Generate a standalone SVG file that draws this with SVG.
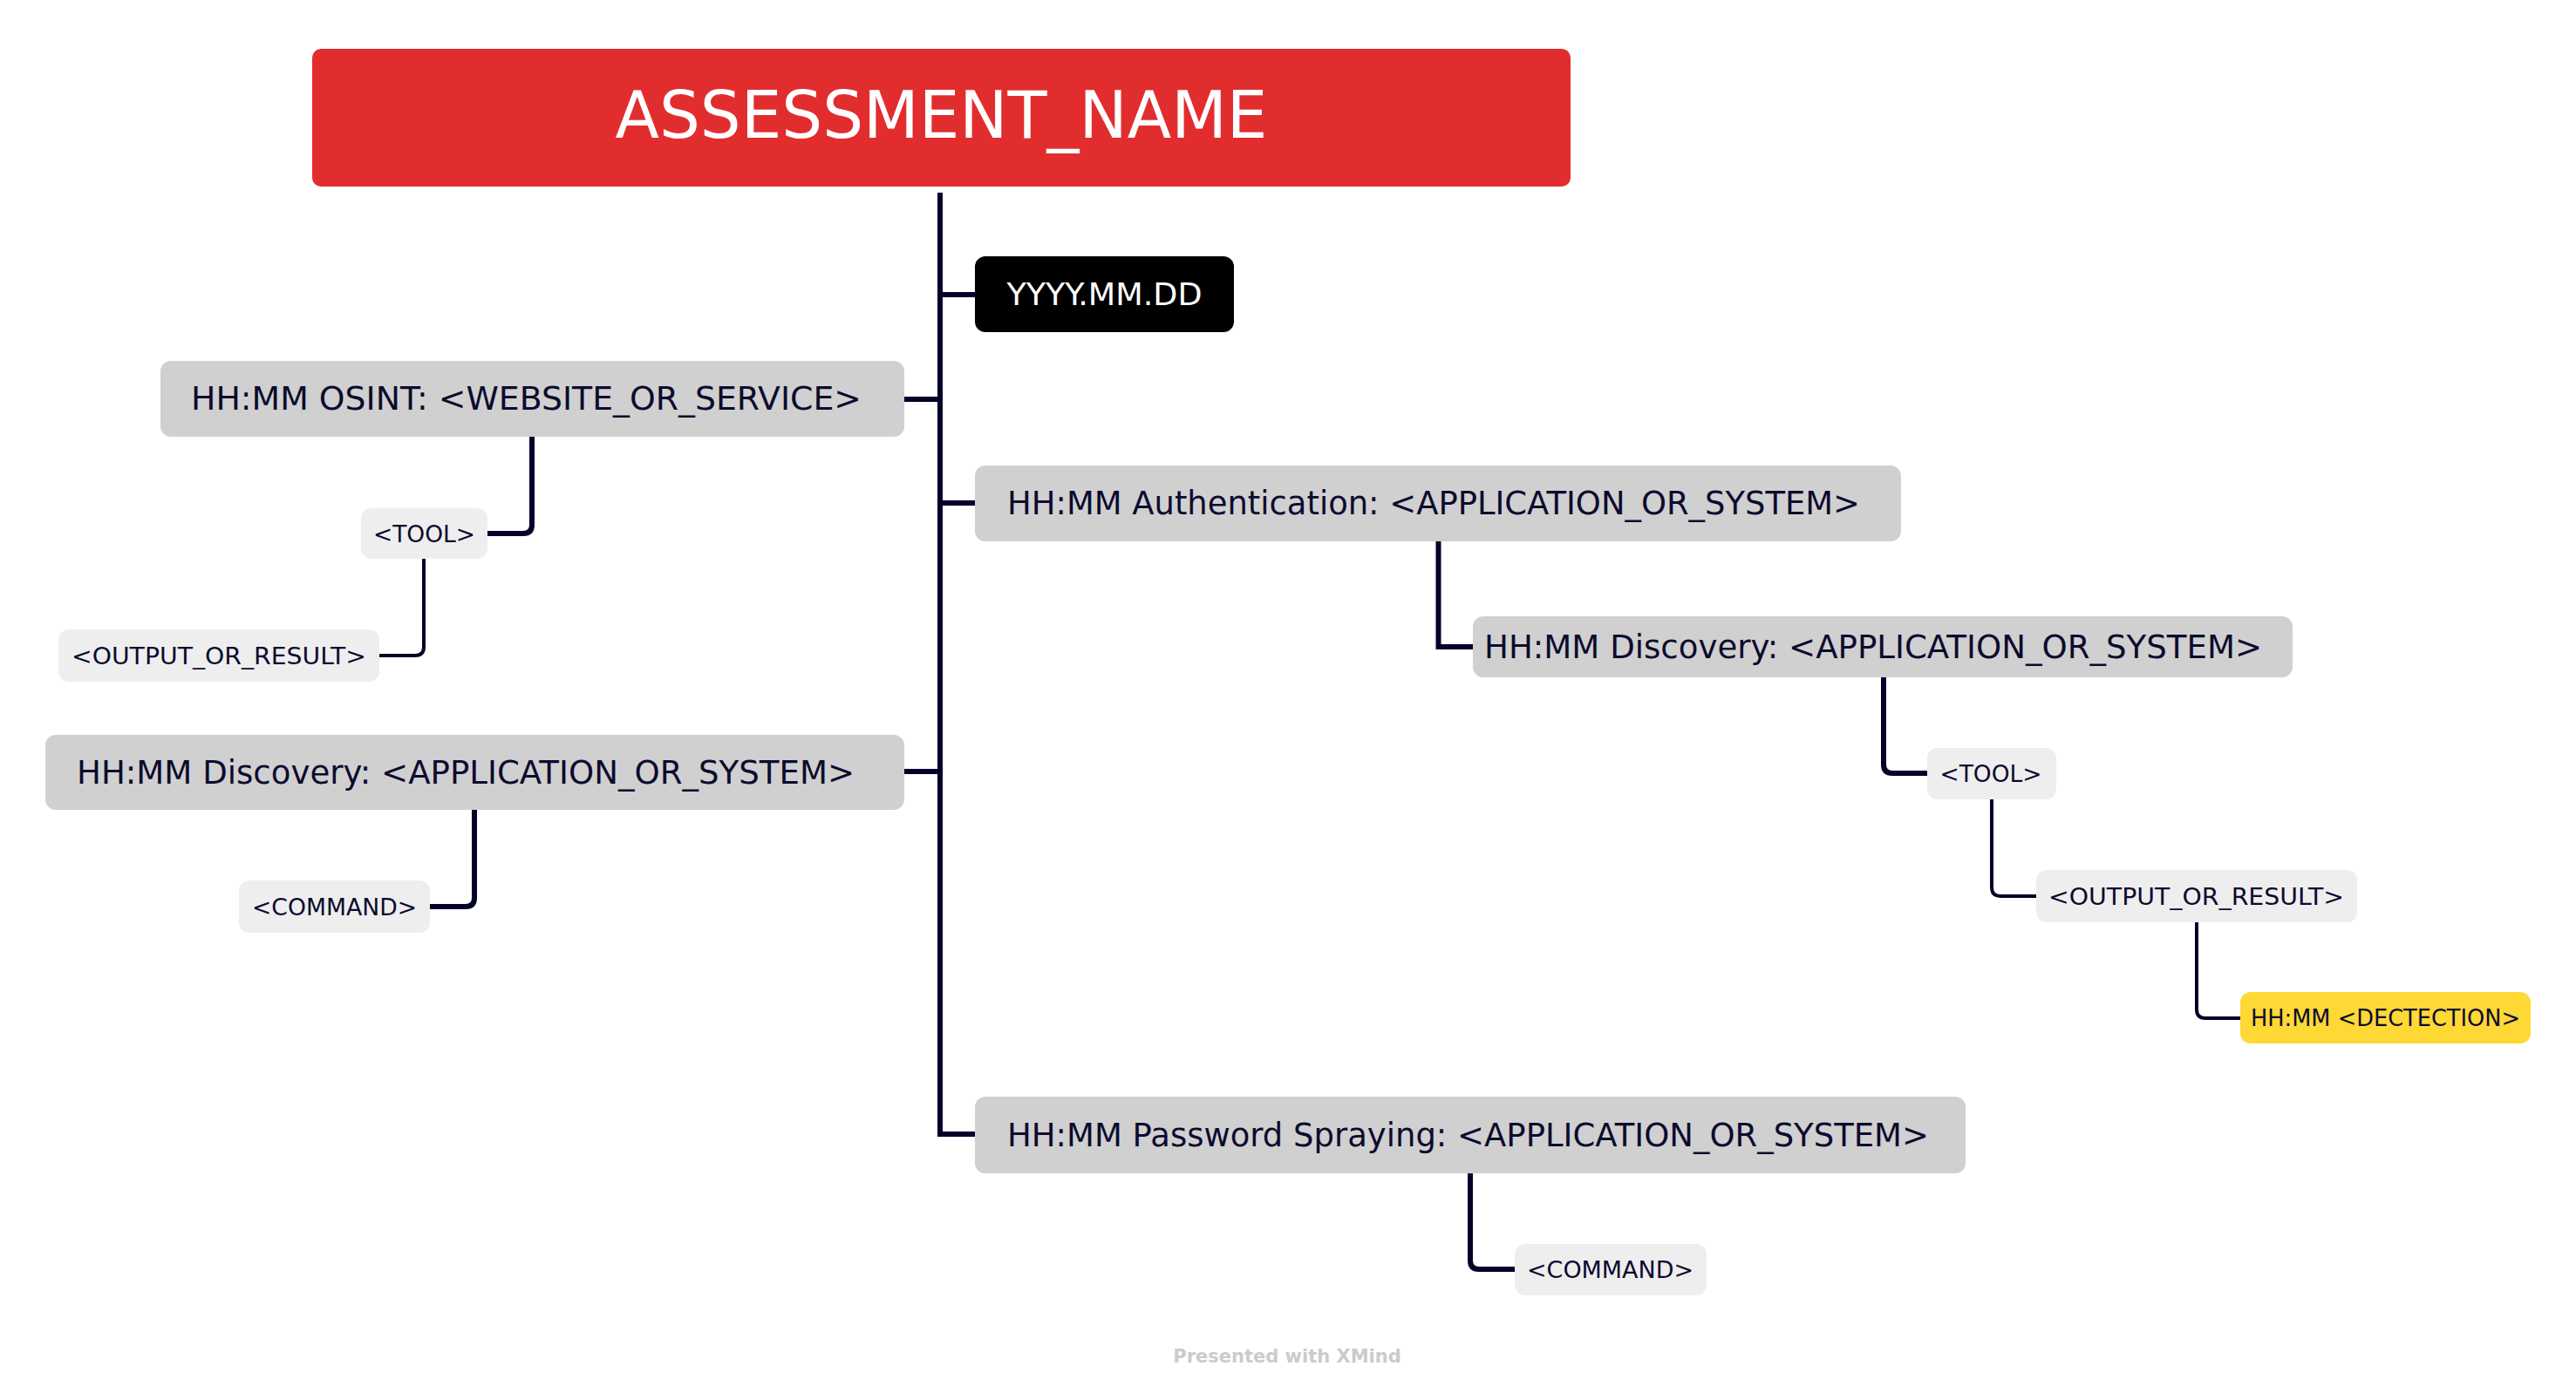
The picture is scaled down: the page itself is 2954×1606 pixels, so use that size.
<svg xmlns="http://www.w3.org/2000/svg" width="2954" height="1606" viewBox="0 0 2954 1606">
<style>
  text { font-family: "DejaVu Sans", Verdana, sans-serif; fill: #0c0b2e; }
  .main rect { fill: #d0d0d0; }
  .main text { font-size: 37px; }
  .sub rect { fill: #eeeeee; }
  .sub text { font-size: 27px; text-anchor: middle; }
  .conn path { fill: none; stroke: #03022a; }
  .w6 { stroke-width: 6; }
  .w4 { stroke-width: 4; }
</style>
<rect width="2954" height="1606" fill="#ffffff"/>
<g id="connectors" class="conn">
  <path class="w6" d="M1078 221 V1301 H1118"/>
  <path class="w6" d="M1078 338 H1118"/>
  <path class="w6" d="M1078 458 H1037"/>
  <path class="w6" d="M1078 577 H1118"/>
  <path class="w6" d="M1078 885 H1037"/>
  <path class="w6" d="M1649.5 621 V742 H1689"/>
  <path class="w6" d="M2160 777 V877 Q2160 887 2170 887 H2210"/>
  <path class="w4" d="M2284 917 V1018 Q2284 1028 2294 1028 H2335"/>
  <path class="w4" d="M2519 1058 V1158 Q2519 1168 2529 1168 H2569"/>
  <path class="w6" d="M1686 1346 V1446 Q1686 1456 1696 1456 H1737"/>
  <path class="w6" d="M610 501 V602 Q610 612 600 612 H559"/>
  <path class="w4" d="M486 641 V742 Q486 752 476 752 H435"/>
  <path class="w6" d="M544 929 V1030 Q544 1040 534 1040 H493"/>
</g>
<g id="root">
  <rect x="358" y="56" width="1443" height="158" rx="10" fill="#e22d2f"/>
  <text x="1079.5" y="158" font-size="74" text-anchor="middle" textLength="748" lengthAdjust="spacingAndGlyphs" style="fill:#ffffff">ASSESSMENT_NAME</text>
</g>
<g id="date">
  <rect x="1118" y="294" width="297" height="87" rx="12" fill="#000000"/>
  <text x="1266.5" y="350" font-size="35.5" text-anchor="middle" textLength="224" lengthAdjust="spacingAndGlyphs" style="fill:#ffffff">YYYY.MM.DD</text>
</g>
<g id="osint" class="main">
  <rect x="184" y="414" width="853" height="87" rx="12"/>
  <text x="219" y="470" textLength="769" lengthAdjust="spacingAndGlyphs">HH:MM OSINT: &lt;WEBSITE_OR_SERVICE&gt;</text>
</g>
<g id="osint-tool" class="sub">
  <rect x="414" y="583" width="145" height="58" rx="12"/>
  <text x="486.5" y="621.5" textLength="117" lengthAdjust="spacingAndGlyphs">&lt;TOOL&gt;</text>
</g>
<g id="osint-output" class="sub">
  <rect x="67" y="722" width="368" height="60" rx="12"/>
  <text x="251" y="761.5" textLength="338" lengthAdjust="spacingAndGlyphs">&lt;OUTPUT_OR_RESULT&gt;</text>
</g>
<g id="discovery-left" class="main">
  <rect x="52" y="843" width="985" height="86" rx="12"/>
  <text x="88" y="898.5" textLength="892" lengthAdjust="spacingAndGlyphs">HH:MM Discovery: &lt;APPLICATION_OR_SYSTEM&gt;</text>
</g>
<g id="discovery-left-command" class="sub">
  <rect x="274" y="1010" width="219" height="60" rx="12"/>
  <text x="383.5" y="1049.5" textLength="189" lengthAdjust="spacingAndGlyphs">&lt;COMMAND&gt;</text>
</g>
<g id="authentication" class="main">
  <rect x="1118" y="534" width="1062" height="87" rx="12"/>
  <text x="1155" y="590" textLength="978" lengthAdjust="spacingAndGlyphs">HH:MM Authentication: &lt;APPLICATION_OR_SYSTEM&gt;</text>
</g>
<g id="discovery-right" class="main">
  <rect x="1689" y="707" width="940" height="70" rx="12"/>
  <text x="1702" y="754.5" textLength="892" lengthAdjust="spacingAndGlyphs">HH:MM Discovery: &lt;APPLICATION_OR_SYSTEM&gt;</text>
</g>
<g id="discovery-right-tool" class="sub">
  <rect x="2210" y="858" width="148" height="59" rx="12"/>
  <text x="2283" y="897" textLength="117" lengthAdjust="spacingAndGlyphs">&lt;TOOL&gt;</text>
</g>
<g id="discovery-right-output" class="sub">
  <rect x="2335" y="998" width="368" height="60" rx="12"/>
  <text x="2518.5" y="1037.5" textLength="339" lengthAdjust="spacingAndGlyphs">&lt;OUTPUT_OR_RESULT&gt;</text>
</g>
<g id="detection" class="sub">
  <rect x="2569" y="1138" width="333" height="59" rx="12" style="fill:#fed835"/>
  <text x="2735.5" y="1177" textLength="309" lengthAdjust="spacingAndGlyphs">HH:MM &lt;DECTECTION&gt;</text>
</g>
<g id="password-spraying" class="main">
  <rect x="1118" y="1258" width="1136" height="88" rx="12"/>
  <text x="1155" y="1314.5" textLength="1057" lengthAdjust="spacingAndGlyphs">HH:MM Password Spraying: &lt;APPLICATION_OR_SYSTEM&gt;</text>
</g>
<g id="password-command" class="sub">
  <rect x="1737" y="1427" width="220" height="59" rx="12"/>
  <text x="1846.5" y="1465.5" textLength="191" lengthAdjust="spacingAndGlyphs">&lt;COMMAND&gt;</text>
</g>
<text x="1476" y="1563" font-size="21" font-weight="bold" text-anchor="middle" style="fill:#cbcbcb">Presented with XMind</text>
</svg>
